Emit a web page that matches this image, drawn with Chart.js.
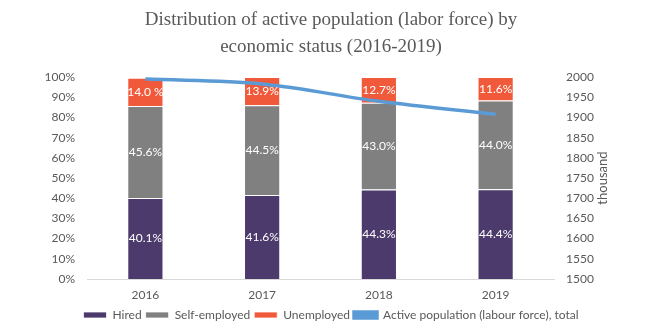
<!DOCTYPE html>
<html>
<head>
<meta charset="utf-8">
<script src="https://cdn.jsdelivr.net/npm/chart.js@4/dist/chart.umd.min.js"></script>
<style>
html,body{margin:0;padding:0;background:#fff;}
#wrap{width:656px;height:336px;position:relative;}
</style>
</head>
<body>
<div id="wrap"><canvas id="c" width="656" height="336"></canvas></div>
<script>
const years = ["2016", "2017", "2018", "2019"];
const hired = [40.1, 41.6, 44.3, 44.4];
const selfEmployed = [45.6, 44.5, 43.0, 44.0];
const unemployed = [14.0, 13.9, 12.7, 11.6];
const hiredLabels = ["40.1%", "41.6%", "44.3%", "44.4%"];
const selfLabels = ["45.6%", "44.5%", "43.0%", "44.0%"];
const unempLabels = ["14.0 %", "13.9%", "12.7%", "11.6%"];
const activeTotal = [1995, 1983, 1940, 1908];
const titleLines = ["Distribution of active population (labor force) by", "economic status (2016-2019)"];
const rightAxisTitle = "thousand";

const FONT = "Lato, 'Open Sans', sans-serif";
const GREY = "#595959";

const segLabels = {
  id: 'segLabels',
  afterDatasetsDraw(chart) {
    const ctx = chart.ctx;
    const sets = [hiredLabels, selfLabels, unempLabels];
    ctx.save();
    ctx.font = "12px " + FONT;
    ctx.fillStyle = "#ffffff";
    ctx.textAlign = "center";
    ctx.textBaseline = "middle";
    for (let d = 0; d < 3; d++) {
      const meta = chart.getDatasetMeta(d);
      meta.data.forEach((el, i) => {
        const p = el.getProps(['x', 'y', 'base'], true);
        ctx.fillText(sets[d][i], p.x, (p.y + p.base) / 2);
      });
    }
    ctx.restore();
  },
  afterDraw(chart) {
    const ctx = chart.ctx;
    const s = chart.scales.y1;
    ctx.save();
    ctx.font = "13px " + FONT;
    ctx.fillStyle = GREY;
    ctx.textAlign = "center";
    ctx.textBaseline = "middle";
    ctx.translate(s.left + 49, (s.top + s.bottom) / 2);
    ctx.rotate(-Math.PI / 2);
    ctx.fillText(rightAxisTitle, 0, 0);
    ctx.restore();
  }
};

const barCommon = { barPercentage: 0.31, categoryPercentage: 1, borderColor: "#ffffff", borderWidth: {top:1,left:1,right:1,bottom:0}, yAxisID: 'y', order: 2 };

new Chart(document.getElementById('c'), {
  type: 'bar',
  data: {
    labels: years,
    datasets: [
      Object.assign({ label: "Hired", data: hired, backgroundColor: "#4b3a6b" }, barCommon),
      Object.assign({ label: "Self-employed", data: selfEmployed, backgroundColor: "#808080" }, barCommon),
      Object.assign({ label: "Unemployed", data: unemployed, backgroundColor: "#f05a3a" }, barCommon),
      { type: 'line', label: "Active population (labour force), total", data: activeTotal,
        borderColor: "#5b9bd5", backgroundColor: "#5b9bd5", borderWidth: 3.5,
        pointRadius: 0, tension: 0.35, yAxisID: 'y1', order: 1 }
    ]
  },
  options: {
    responsive: false,
    animation: false,
    devicePixelRatio: 1,
    layout: { padding: { left: 30, right: 24, top: 6, bottom: 5 } },
    plugins: {
      title: {
        display: true, text: titleLines, color: GREY,
        font: { family: "'Liberation Serif', 'DejaVu Serif', serif", size: 19, weight: 'normal', lineHeight: 1.45 },
        padding: { top: 0, bottom: 16 }
      },
      legend: {
        position: 'bottom',
        labels: { boxWidth: 23, boxHeight: 6, color: GREY, font: { family: FONT, size: 12 }, padding: 4,
          sort: (a, b) => a.datasetIndex - b.datasetIndex }
      },
      tooltip: { enabled: false }
    },
    scales: {
      x: {
        stacked: true,
        grid: { display: false, drawTicks: false },
        border: { display: true, color: "#d9d9d9" },
        ticks: { color: GREY, font: { family: FONT, size: 12 }, padding: 9 },
        afterFit: s => { s.height = 26; }
      },
      y: {
        stacked: true, min: 0, max: 100, position: 'left',
        grid: { display: false, drawTicks: false }, border: { display: false },
        ticks: { stepSize: 10, color: GREY, font: { family: FONT, size: 12 }, padding: 12, callback: v => v + "%" },
        afterFit: s => { s.width = 57; }
      },
      y1: {
        min: 1500, max: 2000, position: 'right',
        grid: { display: false, drawTicks: false }, border: { display: false },
        ticks: { stepSize: 50, color: GREY, font: { family: FONT, size: 12 }, padding: 12, callback: v => String(v) },
        afterFit: s => { s.width = 78; }
      }
    }
  },
  plugins: [segLabels]
});
</script>
</body>
</html>
